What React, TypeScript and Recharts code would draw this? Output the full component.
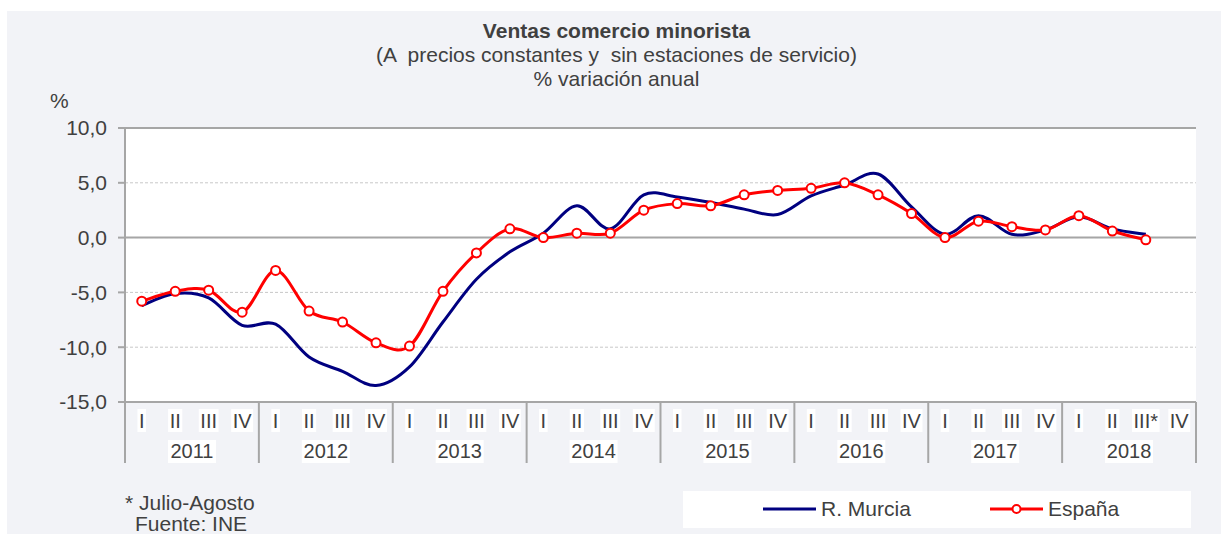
import React from 'react'
import {
  LineChart, Line, XAxis, YAxis, CartesianGrid, ReferenceLine,
} from 'recharts'

const years = ['2011', '2012', '2013', '2014', '2015', '2016', '2017', '2018']
const quarterNames = ['I', 'II', 'III', 'IV']
const lastYearLabels = ['I', 'II', 'III*', 'IV']

// % variación anual, trimestres 2011 I .. 2018 IV (null = sin dato)
const murcia = [
  -6.2, -5.1, -5.5, -8.0,
  -7.9, -10.9, -12.2, -13.5,
  -11.8, -7.7, -3.8, -1.3,
  0.4, 2.9, 0.8, 3.9,
  3.7, 3.2, 2.6, 2.1,
  3.8, 4.8, 5.8, 2.8,
  0.3, 2.0, 0.3, 0.7,
  1.9, 0.8, 0.3, null,
]
const espana = [
  -5.8, -4.9, -4.8, -6.8,
  -3.0, -6.7, -7.7, -9.6,
  -9.9, -4.9, -1.4, 0.8,
  0.0, 0.4, 0.4, 2.5,
  3.1, 2.9, 3.9, 4.3,
  4.5, 5.0, 3.9, 2.2,
  0.0, 1.5, 1.0, 0.7,
  2.0, 0.6, -0.2, null,
]
const yTicks = [-15, -10, -5, 0, 5, 10]

const data = years.flatMap((yr, yi) =>
  quarterNames.map((q, qi) => {
    const i = yi * 4 + qi
    return {
      q: yi === years.length - 1 ? lastYearLabels[qi] : q,
      year: yr,
      murcia: murcia[i],
      espana: espana[i],
    }
  })
)

const FONT = '"Liberation Sans", Arial, sans-serif'
const TEXT = '#404040'
const AXIS = '#a6a6a6'
const PLOT_LEFT = 125
const PLOT_RIGHT = 1196
const BW = (PLOT_RIGHT - PLOT_LEFT) / data.length

// Excel-like smoothing (Catmull-Rom style bezier through the points)
const excelSmooth = (context: any) => {
  let pts: [number, number][] = []
  return {
    areaStart() {},
    areaEnd() {},
    lineStart() { pts = [] },
    lineEnd() {
      if (pts.length) {
        context.moveTo(pts[0][0], pts[0][1])
        for (let i = 0; i < pts.length - 1; i++) {
          const p0 = pts[Math.max(i - 1, 0)]
          const p1 = pts[i]
          const p2 = pts[i + 1]
          const p3 = pts[Math.min(i + 2, pts.length - 1)]
          context.bezierCurveTo(
            p1[0] + (p2[0] - p0[0]) / 6, p1[1] + (p2[1] - p0[1]) / 6,
            p2[0] - (p3[0] - p1[0]) / 6, p2[1] - (p3[1] - p1[1]) / 6,
            p2[0], p2[1],
          )
        }
      }
      pts = []
    },
    point(x: number, y: number) { pts.push([+x, +y]) },
  }
}

const charW: Record<string, number> = { I: 5.6, V: 13.3, '*': 7.8 }
const textWidth = (s: string) => s.split('').reduce((w, c) => w + (charW[c] ?? 11.1), 0)

function XTick(props: any) {
  const { x, y, payload } = props
  const i = payload.index
  const label = String(payload.value)
  const w = textWidth(label) + 3
  const yr = data[i]?.year
  return (
    <g>
      {i % 4 === 0 && (
        <line x1={x - BW / 2} x2={x - BW / 2} y1={y} y2={y + 61} stroke={AXIS} strokeWidth={2} />
      )}
      {i === data.length - 1 && (
        <line x1={x + BW / 2} x2={x + BW / 2} y1={y} y2={y + 61} stroke={AXIS} strokeWidth={2} />
      )}
      <rect x={x - w / 2} y={y + 7} width={w} height={23} fill="#fff" />
      <text x={x} y={y + 26} textAnchor="middle" fontSize={20} fill={TEXT} fontFamily={FONT}>{label}</text>
      {i % 4 === 1 && (
        <g>
          <rect x={x + BW / 2 - 24} y={y + 38} width={48} height={23} fill="#fff" />
          <text x={x + BW / 2} y={y + 56} textAnchor="middle" fontSize={20} fill={TEXT} fontFamily={FONT}>{yr}</text>
        </g>
      )}
    </g>
  )
}

function LegendBox() {
  return (
    <div style={{
      position: 'absolute', left: 683, top: 491, width: 508, height: 37, background: '#fff',
      fontSize: 21, color: TEXT, fontFamily: FONT,
    }}>
      <svg width={60} height={10} style={{ position: 'absolute', left: 80, top: 13 }}>
        <line x1={0} x2={53} y1={5} y2={5} stroke="#000080" strokeWidth={3} />
      </svg>
      <span style={{ position: 'absolute', left: 138, top: 6, lineHeight: '24px' }}>R. Murcia</span>
      <svg width={60} height={12} style={{ position: 'absolute', left: 307, top: 12 }}>
        <line x1={0} x2={53} y1={6} y2={6} stroke="#ff0000" strokeWidth={3} />
        <circle cx={26.5} cy={6} r={4} fill="#fff" stroke="#ff0000" strokeWidth={2} />
      </svg>
      <span style={{ position: 'absolute', left: 365, top: 6, lineHeight: '24px' }}>España</span>
    </div>
  )
}

export default function App() {
  return (
    <div style={{ position: 'absolute', left: 0, top: 0, width: 1221, height: 534, background: '#fff', fontFamily: FONT, overflow: 'hidden' }}>
      <div style={{ position: 'absolute', left: 7, top: 11, right: 0, bottom: 0, background: '#f2f3f7' }} />
      <div style={{ position: 'absolute', left: 0, top: 19, width: 1233, textAlign: 'center', color: TEXT, fontSize: 21, lineHeight: '24px' }}>
        <div style={{ fontWeight: 'bold' }}>Ventas comercio minorista</div>
        <div style={{ whiteSpace: 'pre' }}>(A  precios constantes y  sin estaciones de servicio)</div>
        <div>% variación anual</div>
      </div>
      <div style={{ position: 'absolute', left: 50, top: 89, color: TEXT, fontSize: 21, lineHeight: '24px' }}>%</div>

      <div style={{ position: 'absolute', left: 0, top: 0 }}>
        <LineChart
          width={1221}
          height={534}
          data={data}
          margin={{ top: 128, right: 1221 - PLOT_RIGHT, bottom: 70, left: 0 }}
        >
          <CartesianGrid vertical={false} fill="#fff" stroke="#c8c8c8" strokeDasharray="3 2" />
          <ReferenceLine y={0} stroke={AXIS} strokeWidth={2} />
          <ReferenceLine y={10} stroke={AXIS} strokeWidth={2} />
          <XAxis
            dataKey="q"
            interval={0}
            height={62}
            tickSize={0}
            tickMargin={0}
            tickLine={false}
            axisLine={{ stroke: AXIS, strokeWidth: 2 }}
            padding={{ left: BW / 2, right: BW / 2 }}
            tick={<XTick />}
          />
          <YAxis
            width={PLOT_LEFT}
            domain={[-15, 10]}
            ticks={yTicks}
            interval={0}
            tickSize={7}
            tickMargin={11}
            tickLine={{ stroke: AXIS, strokeWidth: 2 }}
            axisLine={{ stroke: AXIS, strokeWidth: 2 }}
            tick={{ fill: TEXT, fontSize: 21, fontFamily: FONT }}
            tickFormatter={(v: number) => v.toFixed(1).replace('.', ',')}
          />
          <YAxis
            yAxisId="border"
            orientation="right"
            width={0}
            domain={[-15, 10]}
            tick={false}
            tickLine={false}
            axisLine={{ stroke: AXIS, strokeWidth: 2 }}
          />
          <Line
            dataKey="murcia"
            name="R. Murcia"
            type={excelSmooth as any}
            stroke="#000080"
            strokeWidth={3}
            dot={false}
            activeDot={false}
            isAnimationActive={false}
          />
          <Line
            dataKey="espana"
            name="España"
            type={excelSmooth as any}
            stroke="#ff0000"
            strokeWidth={3}
            dot={{ r: 4.5, fill: '#fff', stroke: '#ff0000', strokeWidth: 2 }}
            activeDot={false}
            isAnimationActive={false}
          />
        </LineChart>
      </div>

      <LegendBox />
      <div style={{ position: 'absolute', left: 125, top: 491, color: TEXT, fontSize: 21, lineHeight: '24px' }}>* Julio-Agosto</div>
      <div style={{ position: 'absolute', left: 135, top: 512, color: TEXT, fontSize: 21, lineHeight: '24px' }}>Fuente: INE</div>
    </div>
  )
}
